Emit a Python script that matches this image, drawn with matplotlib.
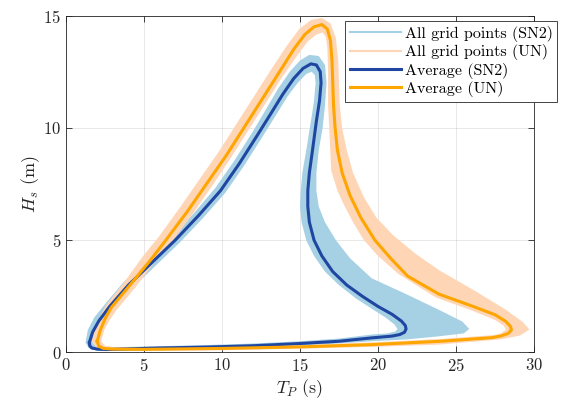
import matplotlib
matplotlib.use('Agg')
import matplotlib.pyplot as plt
from matplotlib.path import Path
from matplotlib.patches import PathPatch
from matplotlib.lines import Line2D

plt.rcParams['font.family'] = 'serif'
plt.rcParams['font.serif'] = ['cmr10']
plt.rcParams['mathtext.fontset'] = 'cm'
plt.rcParams['axes.unicode_minus'] = False
plt.rcParams['axes.formatter.use_mathtext'] = True

# (Tp, Hs) points
# average contour SN2
sn2_avg = [(1.5, 0.45), (1.7, 0.9), (2.1, 1.4), (2.8, 2.05), (4.0, 3.0), (5.5, 4.0), (7.0, 5.0),
           (8.5, 6.1), (9.9, 7.2), (11.1, 8.4), (12.2, 9.6), (13.1, 10.6), (13.9, 11.5), (14.6, 12.2),
           (15.2, 12.65), (15.7, 12.85), (16.05, 12.8), (16.3, 12.5), (16.35, 12.0), (16.25, 11.2),
           (16.05, 10.3), (15.8, 9.0), (15.6, 8.0), (15.5, 7.2), (15.5, 6.5), (15.6, 5.8), (15.9, 5.0),
           (16.4, 4.3), (17.1, 3.6), (18.0, 3.0), (19.0, 2.5), (20.0, 2.05), (20.9, 1.7), (21.5, 1.4),
           (21.75, 1.2), (21.8, 1.05), (21.7, 0.9), (21.4, 0.8), (20.9, 0.73), (19.6, 0.65), (17.5, 0.5),
           (15.0, 0.4), (12.0, 0.3), (9.0, 0.24), (6.0, 0.2), (3.5, 0.15), (2.6, 0.13), (2.0, 0.15),
           (1.65, 0.2), (1.52, 0.3), (1.5, 0.45)]

# average contour UN
un_avg = [(2.0, 0.5), (2.2, 1.0), (2.5, 1.5), (2.9, 2.0), (4.1, 3.0), (5.4, 4.1), (6.4, 5.0),
          (7.8, 6.3), (9.1, 7.6), (10.3, 8.8), (11.4, 10.0), (12.5, 11.2), (13.6, 12.4), (14.6, 13.5),
          (15.3, 14.15), (15.9, 14.5), (16.4, 14.6), (16.75, 14.4), (16.95, 13.9), (17.05, 13.0),
          (17.1, 12.0), (17.15, 11.0), (17.25, 10.0), (17.4, 9.0), (17.7, 8.0), (18.2, 7.0), (18.9, 6.0),
          (19.8, 5.0), (20.8, 4.2), (21.9, 3.4), (23.9, 2.6), (26.1, 2.05), (27.5, 1.68), (28.2, 1.38),
          (28.5, 1.15), (28.55, 1.0), (28.35, 0.85), (27.9, 0.74), (27.3, 0.66), (24.0, 0.5),
          (19.6, 0.35), (15.0, 0.25), (10.0, 0.18), (5.0, 0.14), (3.0, 0.15), (2.4, 0.18), (2.1, 0.28),
          (2.0, 0.5)]

# envelope of all grid points SN2
sn2_outer = [(1.25, 0.45), (1.4, 1.0), (1.8, 1.55), (2.5, 2.15), (3.65, 3.1), (5.15, 4.1), (6.7, 5.1),
             (8.2, 6.2), (9.6, 7.35), (10.8, 8.55), (11.9, 9.75), (12.8, 10.8), (13.6, 11.75),
             (14.35, 12.5), (15.0, 13.0), (15.6, 13.25), (16.2, 13.2), (16.6, 12.8), (16.7, 12.0),
             (16.6, 11.0), (16.45, 10.0), (16.2, 9.0), (16.05, 8.0), (16.05, 7.2), (16.2, 6.5),
             (16.6, 5.8), (17.3, 5.0), (18.2, 4.2), (19.6, 3.3), (21.8, 2.6), (23.9, 1.9), (25.4, 1.38),
             (25.85, 1.05), (25.5, 0.85), (23.9, 0.72), (21.8, 0.58), (19.6, 0.5), (17.0, 0.38),
             (14.0, 0.28), (10.0, 0.2), (6.0, 0.13), (3.5, 0.08), (2.0, 0.08), (1.45, 0.2), (1.25, 0.45)]
sn2_inner = [(1.7, 0.45), (1.95, 0.9), (2.4, 1.35), (3.1, 1.95), (4.3, 2.9), (5.8, 3.9), (7.3, 4.9),
             (8.8, 6.0), (10.2, 7.1), (11.4, 8.3), (12.5, 9.5), (13.4, 10.5), (14.2, 11.4), (14.85, 12.0),
             (15.4, 12.4), (15.75, 12.5), (15.95, 12.35), (16.0, 12.0), (15.9, 11.2), (15.7, 10.3),
             (15.4, 9.0), (15.15, 8.0), (15.05, 7.2), (15.0, 6.5), (15.1, 5.8), (15.4, 5.0), (15.9, 4.3),
             (16.6, 3.6), (17.5, 3.0), (18.6, 2.4), (19.6, 1.95), (20.5, 1.55), (21.05, 1.25),
             (21.25, 1.05), (21.1, 0.93), (20.6, 0.85), (19.6, 0.8), (17.5, 0.62), (15.0, 0.5),
             (12.0, 0.4), (9.0, 0.33), (6.0, 0.28), (3.5, 0.24), (2.5, 0.25), (2.0, 0.3), (1.75, 0.38),
             (1.7, 0.45)]

# envelope of all grid points UN
un_outer = [(1.65, 0.5), (1.85, 1.0), (2.15, 1.55), (2.55, 2.1), (3.7, 3.1), (4.95, 4.3), (5.95, 5.15),
            (7.35, 6.5), (8.65, 7.8), (9.85, 9.0), (10.95, 10.2), (12.05, 11.4), (13.15, 12.6),
            (14.2, 13.7), (14.95, 14.4), (15.7, 14.8), (16.4, 14.9), (16.95, 14.65), (17.3, 14.0),
            (17.45, 13.0), (17.5, 12.0), (17.55, 11.0), (17.7, 10.0), (18.0, 9.0), (18.4, 8.0),
            (19.1, 6.9), (19.9, 6.0), (21.0, 5.2), (22.4, 4.4), (23.9, 3.67), (26.1, 2.79), (28.2, 1.9),
            (29.3, 1.35), (29.7, 1.02), (29.1, 0.75), (27.8, 0.58), (23.9, 0.35), (19.6, 0.25),
            (15.0, 0.17), (10.0, 0.1), (5.0, 0.07), (3.0, 0.08), (2.0, 0.17), (1.65, 0.5)]
un_inner = [(2.25, 0.5), (2.45, 1.0), (2.8, 1.45), (3.25, 1.9), (4.45, 2.9), (5.7, 4.05), (6.7, 4.85),
            (8.1, 6.15), (9.4, 7.45), (10.55, 8.65), (11.65, 9.85), (12.75, 11.05), (13.85, 12.25),
            (14.8, 13.2), (15.5, 13.85), (16.05, 14.15), (16.45, 14.25), (16.65, 14.05), (16.75, 13.6),
            (16.8, 12.5), (16.8, 11.0), (16.85, 10.3), (17.0, 8.1), (17.4, 7.2), (17.8, 6.6),
            (18.4, 5.8), (19.1, 5.0), (20.0, 4.3), (21.3, 3.5), (23.7, 2.45), (25.9, 1.9), (27.5, 1.45),
            (28.05, 1.2), (28.2, 1.02), (27.9, 0.86), (27.5, 0.78), (24.0, 0.6), (19.6, 0.45),
            (15.0, 0.33), (10.0, 0.26), (5.0, 0.22), (3.0, 0.24), (2.5, 0.3), (2.25, 0.5)]

labels = ['All grid points (SN2)', 'All grid points (UN)', 'Average (SN2)', 'Average (UN)']

c_sn2_band = '#a6d0e4'
c_un_band = '#fed6b6'
c_sn2 = '#1f46a0'
c_un = '#ffa500'


def band(ax, outer, inner, color):
    # ring between outer and inner edge, inner reversed so it is a hole
    verts = outer + inner[::-1]
    codes = ([Path.MOVETO] + [Path.LINETO] * (len(outer) - 1) +
             [Path.MOVETO] + [Path.LINETO] * (len(inner) - 1))
    ax.add_patch(PathPatch(Path(verts, codes), facecolor=color, edgecolor='none', zorder=2))


fig = plt.figure(figsize=(5.71, 4.04), dpi=100)
ax = fig.add_axes([0.1156, 0.1275, 0.8196, 0.834])

band(ax, sn2_outer, sn2_inner, c_sn2_band)
band(ax, un_outer, un_inner, c_un_band)
ax.plot([p[0] for p in sn2_avg], [p[1] for p in sn2_avg], color=c_sn2, lw=2.2, zorder=3)
ax.plot([p[0] for p in un_avg], [p[1] for p in un_avg], color=c_un, lw=2.2, zorder=4)

ax.set_xlim(0, 30)
ax.set_ylim(0, 15)
ax.set_xticks([0, 5, 10, 15, 20, 25, 30])
ax.set_yticks([0, 5, 10, 15])
ax.grid(True, color='#262626', alpha=0.12, lw=0.6)
ax.set_axisbelow(True)
ax.tick_params(direction='in', top=True, right=True, labelsize=12, length=4,
               color='#262626', labelcolor='#262626', width=0.6)
for s in ax.spines.values():
    s.set_color('#262626')
    s.set_linewidth(0.6)

ax.set_xlabel('$T_P$ (s)', fontsize=13, color='#262626', labelpad=2)
ax.set_ylabel('$H_s$ (m)', fontsize=13, color='#262626', labelpad=1)

handles = [Line2D([], [], color=c_sn2_band, lw=1.5),
           Line2D([], [], color=c_un_band, lw=1.5),
           Line2D([], [], color=c_sn2, lw=2.2),
           Line2D([], [], color=c_un, lw=2.2)]
leg = ax.legend(handles, labels, loc='upper left', bbox_to_anchor=(0.596, 0.984),
                borderaxespad=0, fontsize=11.5, fancybox=False, framealpha=1,
                edgecolor='#262626', handlelength=3.2, handletextpad=0.25,
                labelspacing=0.15, borderpad=0.3)
leg.get_frame().set_linewidth(0.6)

fig.savefig('out.png', dpi=100)
